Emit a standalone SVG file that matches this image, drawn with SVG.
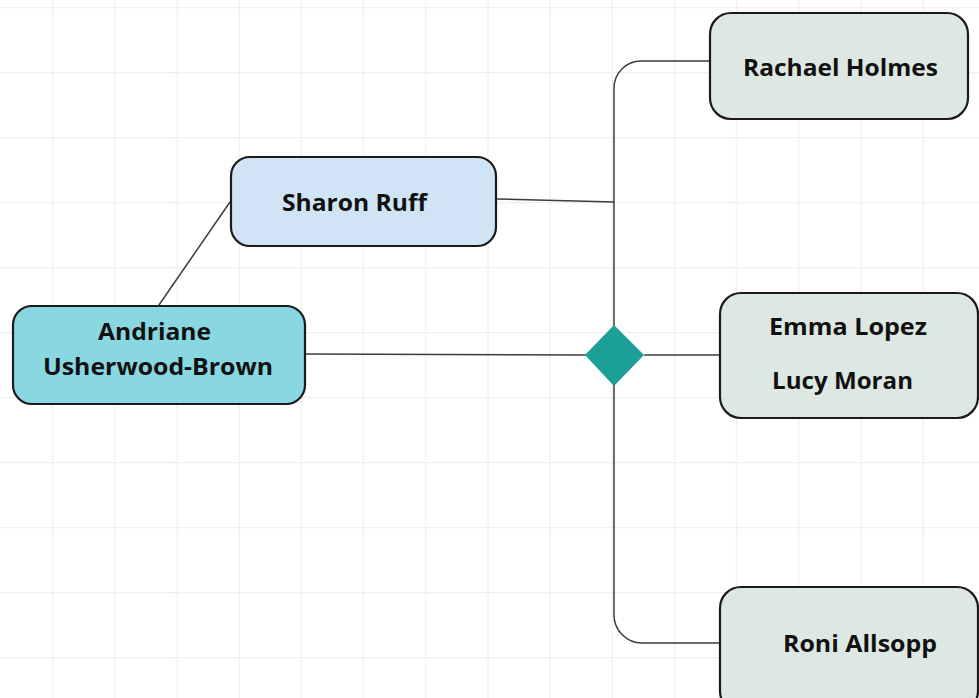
<svg xmlns="http://www.w3.org/2000/svg" width="979" height="698" viewBox="0 0 979 698">
<defs>
<pattern id="grid" x="-9" y="7" width="62.2" height="65" patternUnits="userSpaceOnUse">
<path d="M62.2 0V65M0 0H62.2" fill="none" stroke="#efefef" stroke-width="2.5"/>
</pattern>
</defs>
<style>
.node rect{stroke:#1b1b1b;stroke-width:2.2}
.node text{font-family:"Open Sans","Liberation Sans",sans-serif;font-weight:700;font-size:23px;fill:#111;text-anchor:middle}
.conn path{fill:none;stroke:#3c3c3c;stroke-width:1.5}
</style>
<rect width="979" height="698" fill="#ffffff"/>
<rect width="979" height="698" fill="url(#grid)"/>
<g class="conn" id="connectors">
<path d="M159 305L230 202"/>
<path d="M306 354L586 355"/>
<path d="M497 199L614 202"/>
<path d="M709 61H641A27 27 0 0 0 614 88V615A28 28 0 0 0 642 643H720"/>
<path d="M644 355H720"/>
</g>
<g id="junction">
<polygon points="614,325 644,355 614,386 585,355" fill="#1c9f97"/>
</g>
<g class="node" id="sharon">
<rect x="231" y="157" width="265" height="89" rx="19" fill="#d0e4f5"/>
<text x="354.5" y="211" textLength="145" lengthAdjust="spacingAndGlyphs">Sharon Ruff</text>
</g>
<g class="node" id="rachael">
<rect x="710" y="13" width="258" height="106" rx="21" fill="#dee8e2"/>
<text x="840.5" y="76" textLength="195" lengthAdjust="spacingAndGlyphs">Rachael Holmes</text>
</g>
<g class="node" id="andriane">
<rect x="13" y="306" width="292" height="98" rx="19" fill="#88d7e1"/>
<text x="154.5" y="340" textLength="113" lengthAdjust="spacingAndGlyphs">Andriane</text>
<text x="158" y="375" textLength="230" lengthAdjust="spacingAndGlyphs">Usherwood-Brown</text>
</g>
<g class="node" id="emma-lucy">
<rect x="720" y="293" width="258" height="125" rx="21" fill="#dee8e2"/>
<text x="848" y="335" textLength="158" lengthAdjust="spacingAndGlyphs">Emma Lopez</text>
<text x="842.5" y="389" textLength="141" lengthAdjust="spacingAndGlyphs">Lucy Moran</text>
</g>
<g class="node" id="roni">
<rect x="720" y="587" width="258" height="125" rx="21" fill="#dee8e2"/>
<text x="860" y="652" textLength="154" lengthAdjust="spacingAndGlyphs">Roni Allsopp</text>
</g>
</svg>
